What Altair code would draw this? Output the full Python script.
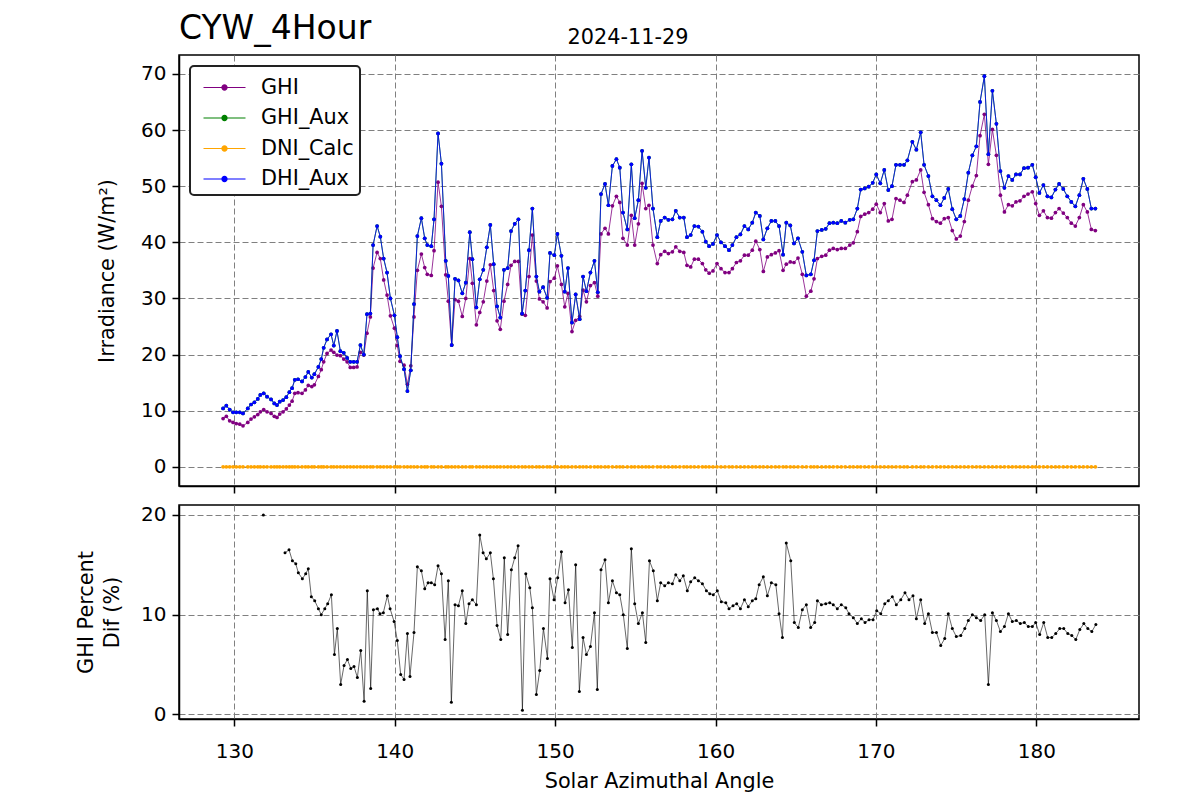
import altair as alt
import pandas as pd

# ---------------- data ----------------
azimuth = [
    129.30, 129.50, 129.71, 129.92, 130.12, 130.34, 130.54, 130.84, 131.04, 131.25,
    131.46, 131.62, 131.83, 132.04, 132.29, 132.49, 132.66, 132.83, 133.04, 133.24,
    133.43, 133.60, 133.77, 133.97, 134.22, 134.43, 134.61, 134.83, 134.99, 135.24,
    135.42, 135.57, 135.78, 136.03, 136.20, 136.40, 136.61, 136.82, 137.03, 137.23,
    137.44, 137.65, 137.86, 138.07, 138.27, 138.48, 138.65, 138.90, 139.10, 139.31,
    139.52, 139.73, 139.98,
    140.16, 140.33, 140.58, 140.79, 141.00, 141.20, 141.41, 141.66, 141.87, 142.03,
    142.28, 142.45, 142.70, 142.91, 143.18, 143.34, 143.55, 143.76, 143.97, 144.21,
    144.43, 144.68, 144.84, 145.09, 145.30, 145.52, 145.74, 145.96, 146.17, 146.38,
    146.58, 146.81, 147.04, 147.25, 147.48, 147.71, 147.94, 148.14, 148.37, 148.58,
    148.83, 149.02, 149.25, 149.50, 149.68, 149.95, 150.14, 150.39, 150.60, 150.80,
    151.05,
    151.28, 151.53, 151.74, 151.95, 152.20, 152.45, 152.66, 152.86, 153.11, 153.32,
    153.57, 153.82, 154.03, 154.23, 154.50, 154.75, 154.96, 155.19, 155.42, 155.65,
    155.85, 156.10, 156.37, 156.58, 156.83, 157.06, 157.31, 157.52, 157.77, 158.02,
    158.22, 158.45, 158.68, 158.93, 159.18, 159.39, 159.60, 159.84, 160.09, 160.34,
    160.59, 160.84, 161.05, 161.30, 161.55, 161.80, 162.04,
    162.29, 162.51, 162.76, 162.98, 163.23, 163.48, 163.73, 163.96, 164.21, 164.41,
    164.66, 164.89, 165.14, 165.41, 165.66, 165.94, 166.14, 166.35, 166.62, 166.87,
    167.10, 167.34, 167.59, 167.84, 168.09, 168.37, 168.59, 168.84, 169.05, 169.30,
    169.55, 169.80, 170.02, 170.27, 170.52, 170.77, 171.00, 171.25, 171.50, 171.75,
    171.96, 172.27, 172.52, 172.79, 173.00,
    173.27, 173.52, 173.77, 174.02, 174.26, 174.51, 174.76, 175.01, 175.26, 175.51,
    175.76, 176.01, 176.26, 176.49, 176.76, 177.01, 177.26, 177.51, 177.76, 178.01,
    178.26, 178.50, 178.73, 178.98, 179.23, 179.48, 179.75, 179.96, 180.19, 180.44,
    180.69, 180.94, 181.19, 181.42, 181.68, 181.93, 182.18, 182.43, 182.68, 182.93,
    183.18, 183.43, 183.68,
]

ghi = [
    8.6, 9.0, 8.2, 7.9, 7.7, 7.6, 7.3, 7.9, 8.5, 8.9,
    9.3, 9.8, 10.2, 9.8, 9.5, 9.0, 8.8, 9.4, 9.8, 10.3,
    11.0, 11.7, 13.1, 13.2, 13.1, 13.7, 14.5, 14.3, 14.6, 16.1,
    17.3, 18.7, 20.2, 20.8, 20.4, 19.9, 19.8, 19.2, 18.7, 17.7,
    17.7, 17.8, 20.4, 19.9, 23.8, 26.7, 35.4, 38.2, 37.1, 33.3,
    30.6, 26.9, 24.7,
    21.6, 18.8, 18.1, 14.7, 18.0, 26.7, 35.0, 37.9, 35.5, 34.3,
    34.1, 38.5, 50.7, 46.4, 34.2, 29.5, 21.7, 29.8, 29.5, 26.8,
    30.0, 37.1, 32.7, 25.3, 27.5, 29.4, 33.1, 36.0, 31.4, 26.0,
    24.5, 29.5, 32.5, 35.9, 36.6, 36.6, 27.2, 27.0, 33.9, 41.3,
    33.1, 29.9, 29.4, 28.3, 33.0, 33.6, 35.8, 32.5, 28.5, 30.9,
    24.1,
    26.1, 26.8, 31.5, 29.4, 32.3, 32.8, 30.4, 41.5, 42.5, 41.5,
    46.5, 48.2, 47.1, 40.7, 39.5, 44.8, 39.5, 43.3, 50.5, 46.0,
    46.6, 39.5, 36.2, 37.8, 38.4, 38.0, 38.3, 39.2, 38.4, 38.2,
    35.9, 35.6, 37.0, 37.0, 36.2, 35.1, 34.5, 34.9, 36.2, 35.3,
    34.6, 34.6, 35.3, 36.4, 36.7, 37.7, 37.7,
    38.6, 40.2, 38.7, 34.8, 37.4, 37.8, 38.1, 38.5, 35.0, 36.1,
    36.5, 36.4, 37.2, 34.3, 30.4, 31.3, 33.5, 37.1, 37.5, 37.7,
    38.6, 38.9, 38.7, 38.9, 38.9, 39.5, 39.9, 41.9, 44.6, 45.0,
    45.3, 45.9, 46.8, 45.3, 46.9, 43.8, 44.1, 47.8, 47.5, 47.1,
    48.4, 50.8, 51.1, 52.9, 48.9,
    46.7, 44.2, 43.7, 43.4, 44.2, 44.4, 42.1, 40.6, 41.1, 43.7,
    47.5, 50.0, 51.9, 59.0, 62.8, 53.9, 60.1, 55.5, 48.4, 45.4,
    46.7, 46.5, 47.2, 47.4, 48.2, 48.6, 49.0, 46.9, 44.8, 45.6,
    44.4, 44.3, 45.3, 46.0, 45.2, 44.4, 43.4, 42.9, 44.4, 46.7,
    45.4, 42.3, 42.1,
]

dhi_aux = [
    10.4, 10.9, 10.2, 9.7, 9.7, 9.7, 9.5, 10.4, 11.1, 11.5,
    12.1, 12.8, 13.1, 12.5, 12.0, 11.3, 11.0, 11.6, 11.9, 12.4,
    13.3, 14.0, 15.5, 15.6, 15.2, 16.0, 16.9, 15.9, 16.5, 17.8,
    19.2, 21.2, 22.7, 23.6, 21.6, 24.2, 20.6, 20.3, 19.4, 18.7,
    18.7, 18.7, 21.7, 20.0, 27.2, 27.3, 39.5, 42.9, 41.0, 37.1,
    34.6, 30.0, 27.0,
    23.1, 19.7, 17.4, 13.5, 17.2, 29.0, 41.1, 44.3, 40.7, 39.5,
    39.3, 44.1, 59.4, 54.0, 36.7, 34.0, 21.7, 33.5, 33.2, 30.9,
    32.8, 41.8, 37.0, 28.4, 33.4, 35.1, 39.1, 43.1, 36.1, 28.6,
    26.6, 35.1, 35.4, 42.0, 43.3, 44.1, 27.3, 31.4, 38.6, 46.0,
    33.9, 31.2, 32.0, 30.1, 38.1, 37.7, 41.5, 37.6, 31.2, 35.4,
    25.7,
    30.7, 26.3, 33.9, 31.3, 34.6, 36.7, 31.1, 48.6, 50.4, 46.6,
    53.6, 54.8, 53.3, 45.3, 42.3, 53.9, 44.3, 47.5, 56.3, 49.7,
    55.1, 46.0, 40.9, 43.8, 44.4, 44.0, 44.1, 45.6, 44.4, 44.4,
    40.9, 41.3, 42.9, 42.8, 41.9, 40.1, 39.3, 39.7, 41.3, 40.0,
    39.3, 38.6, 39.5, 40.9, 41.4, 42.9, 42.3,
    43.5, 45.3, 44.7, 40.5, 42.5, 43.8, 43.8, 42.9, 37.8, 43.5,
    43.0, 39.8, 40.7, 38.3, 34.1, 34.3, 36.8, 42.0, 42.2, 42.4,
    43.4, 43.5, 43.4, 43.8, 43.5, 44.0, 44.1, 46.0, 49.4, 49.6,
    49.9, 50.6, 52.1, 50.5, 52.9, 49.3, 50.0, 53.8, 53.8, 53.8,
    54.6, 57.9, 56.5, 59.6, 53.8,
    51.8, 48.2, 47.5, 46.6, 47.9, 49.5, 45.9, 44.1, 44.7, 47.7,
    52.4, 55.5, 57.1, 65.0, 69.6, 55.7, 67.0, 61.1, 52.7, 49.7,
    51.8, 51.1, 52.1, 52.1, 53.2, 53.3, 53.8, 51.6, 48.8, 50.2,
    48.2, 48.0, 49.4, 50.4, 49.5, 48.2, 47.2, 46.4, 48.4, 51.3,
    49.5, 46.0, 46.0,
]

# GHI_Aux is drawn before DHI_Aux and lies exactly underneath it (no green is visible)
ghi_aux = list(dhi_aux)

dni_calc = [
    0, 0, 0, 0, 0, 0, 0, 0, 0, 0, 0, 0, 0, 0, 0, 0, 0, 0, 0, 0,
    0, 0, 0, 0, 0, 0, 0, 0, 0, 0, 0, 0, 0, 0, 0, 0, 0, 0, 0, 0,
    0, 0, 0, 0, 0, 0, 0, 0, 0, 0, 0, 0, 0, 0, 0, 0, 0, 0, 0, 0,
    0, 0, 0, 0, 0, 0, 0, 0, 0, 0, 0, 0, 0, 0, 0, 0, 0, 0, 0, 0,
    0, 0, 0, 0, 0, 0, 0, 0, 0, 0, 0, 0, 0, 0, 0, 0, 0, 0, 0, 0,
    0, 0, 0, 0, 0, 0, 0, 0, 0, 0, 0, 0, 0, 0, 0, 0, 0, 0, 0, 0,
    0, 0, 0, 0, 0, 0, 0, 0, 0, 0, 0, 0, 0, 0, 0, 0, 0, 0, 0, 0,
    0, 0, 0, 0, 0, 0, 0, 0, 0, 0, 0, 0, 0, 0, 0, 0, 0, 0, 0, 0,
    0, 0, 0, 0, 0, 0, 0, 0, 0, 0, 0, 0, 0, 0, 0, 0, 0, 0, 0, 0,
    0, 0, 0, 0, 0, 0, 0, 0, 0, 0, 0, 0, 0, 0, 0, 0, 0, 0, 0, 0,
    0, 0, 0, 0, 0, 0, 0, 0, 0, 0, 0, 0, 0, 0, 0, 0, 0, 0, 0, 0,
    0, 0, 0, 0, 0, 0, 0, 0, 0, 0, 0, 0, 0, 0, 0, 0, 0, 0, 0,
]

pct_azimuth = [
    131.81,
    133.16, 133.41, 133.62, 133.83, 133.99, 134.24, 134.45, 134.61, 134.80, 135.01,
    135.24, 135.42, 135.64, 135.82, 136.05, 136.24, 136.42, 136.63, 136.84, 137.05,
    137.26, 137.46, 137.67, 137.88, 138.09, 138.29, 138.50, 138.67, 138.92, 139.08,
    139.29, 139.54, 139.71, 139.96, 140.16, 140.37, 140.58, 140.79, 140.95, 141.20,
    141.41, 141.66, 141.87, 142.08, 142.28, 142.49, 142.70, 142.91, 143.14, 143.34,
    143.53, 143.76, 143.97, 144.21, 144.43, 144.63, 144.84, 145.09, 145.30, 145.51,
    145.71, 145.96, 146.15, 146.38, 146.61, 146.83, 147.04, 147.27, 147.48, 147.69,
    147.96, 148.17, 148.42, 148.58, 148.83, 149.04, 149.27, 149.52, 149.68, 149.93,
    150.16, 150.39, 150.62, 150.83, 151.07, 151.28, 151.51, 151.74, 151.95, 152.20,
    152.45, 152.63, 152.86, 153.11, 153.32, 153.57, 153.82, 154.03, 154.25, 154.50,
    154.75, 154.96, 155.19, 155.44, 155.65, 155.88, 156.12, 156.37, 156.58, 156.83,
    157.06, 157.31, 157.52, 157.77, 157.99, 158.24, 158.45, 158.70, 158.93, 159.18,
    159.43, 159.64, 159.86, 160.11, 160.36, 160.64, 160.84, 161.09, 161.32, 161.55,
    161.80, 162.04, 162.29, 162.51, 162.72, 162.98, 163.23, 163.48, 163.76, 163.96,
    164.17, 164.41, 164.69, 164.91, 165.16, 165.41, 165.66, 165.93, 166.18, 166.35,
    166.60, 166.87, 167.12, 167.34, 167.59, 167.84, 168.12, 168.32, 168.59, 168.84,
    169.09, 169.32, 169.57, 169.82, 170.05, 170.30, 170.55, 170.77, 171.02, 171.27,
    171.55, 171.81, 172.06, 172.31, 172.52, 172.79, 173.04, 173.27, 173.52, 173.77,
    174.04, 174.29, 174.51, 174.76, 175.01, 175.29, 175.54, 175.76, 176.01, 176.26,
    176.53, 176.78, 177.01, 177.26, 177.51, 177.76, 178.01, 178.26, 178.50, 178.75,
    179.00, 179.25, 179.50, 179.75, 179.96, 180.21, 180.46, 180.71, 180.96, 181.21,
    181.46, 181.71, 181.96, 182.21, 182.46, 182.71, 182.96, 183.21, 183.46, 183.71,
]

pct_dif = [
    20.0,
    16.2, 16.5, 15.4, 15.1, 14.2, 13.6, 14.1, 14.6, 11.8, 11.4,
    10.6, 10.0, 10.6, 11.1, 12.0, 6.0, 8.6, 3.0, 4.9, 5.5,
    4.6, 4.8, 3.7, 6.4, 1.3, 12.4, 2.6, 10.5, 10.6, 10.1,
    10.2, 11.9, 10.6, 9.3, 7.4, 4.0, 3.5, 8.1, 3.8, 8.2,
    14.8, 14.4, 12.6, 13.2, 13.2, 13.0, 14.9, 14.1, 7.5, 13.4,
    1.2, 11.0, 10.9, 12.4, 9.1, 11.1, 11.5, 11.0, 18.0, 16.2,
    15.6, 16.2, 13.6, 8.9, 7.5, 15.7, 8.0, 14.5, 15.7, 16.9,
    0.4, 14.1, 12.7, 10.7, 2.0, 4.4, 8.6, 5.6, 13.6, 11.5,
    13.7, 16.3, 11.2, 12.5, 6.7, 15.0, 2.3, 7.7, 6.0, 6.8,
    10.2, 2.5, 14.5, 15.5, 11.2, 13.4, 12.2, 12.0, 10.0, 6.6,
    16.6, 11.1, 9.1, 10.2, 7.2, 15.4, 14.4, 11.4, 13.2, 12.9,
    13.2, 13.1, 14.0, 13.4, 13.9, 12.4, 13.3, 13.7, 13.4, 13.1,
    12.4, 12.1, 12.0, 12.4, 11.3, 11.2, 10.6, 10.9, 11.1, 10.6,
    11.5, 10.8, 11.4, 11.6, 13.0, 13.8, 11.9, 13.2, 13.0, 10.1,
    7.7, 17.2, 15.4, 9.2, 8.7, 10.5, 11.0, 8.7, 9.2, 11.4,
    11.0, 11.1, 11.2, 11.0, 10.6, 11.0, 10.7, 10.1, 9.7, 9.1,
    9.6, 9.2, 9.5, 9.5, 10.4, 10.1, 11.1, 11.4, 11.8, 11.0,
    11.5, 12.2, 11.5, 11.9, 9.6, 11.5, 9.1, 10.1, 8.2, 8.2,
    6.9, 7.6, 10.1, 8.6, 7.8, 7.9, 8.6, 9.4, 10.0, 9.7,
    9.4, 10.0, 3.0, 10.2, 9.4, 8.3, 8.8, 10.1, 9.3, 9.4,
    9.1, 9.2, 8.8, 8.8, 9.2, 8.0, 9.2, 7.7, 7.7, 8.1,
    8.6, 8.6, 8.1, 7.9, 7.5, 8.5, 9.1, 8.6, 8.3, 9.0,
]

series_names = ["GHI", "GHI_Aux", "DNI_Calc", "DHI_Aux"]
series_colors = ["#800080", "#008000", "#FFA500", "#0000FF"]
x_ticks = [130, 140, 150, 160, 170, 180]
top_y_ticks = [0, 10, 20, 30, 40, 50, 60, 70]
bottom_y_ticks = [0, 10, 20]

# ---------------- tables ----------------
rows = []
for name, vals in zip(series_names, [ghi, ghi_aux, dni_calc, dhi_aux]):
    for a, v in zip(azimuth, vals):
        rows.append({"az": a, "val": v, "series": name})
top_df = pd.DataFrame(rows)

pct_df = pd.DataFrame({"az": pct_azimuth, "pct": pct_dif})
pct_df["run"] = (pct_df["az"] > 132.5).astype(int)

FONT = "DejaVu Sans"
x_scale = alt.Scale(domain=[126.55, 186.4], nice=False, zero=False)
top_y_scale = alt.Scale(domain=[-3.42, 73.37], nice=False, zero=False)
bot_y_scale = alt.Scale(domain=[-0.47, 21.0], nice=False, zero=False)
color_scale = alt.Scale(domain=series_names, range=series_colors)

top_x_axis = alt.Axis(values=x_ticks, labels=False, title=None, grid=True)
top_y_axis = alt.Axis(values=top_y_ticks, title="Irradiance (W/m²)", grid=True,
                      titlePadding=23, labelPadding=6)

legend_symbol = ("M-1.4,-0.04L1.4,-0.04L1.4,0.04L-1.4,0.04Z"
                 "M-0.21,0A0.21,0.21 0 1,1 0.21,0A0.21,0.21 0 1,1 -0.21,0Z"
                 "M-0.1,0A0.1,0.1 0 1,1 0.1,0A0.1,0.1 0 1,1 -0.1,0Z")
top_legend = alt.Legend(
    title=None, orient="none", legendX=11, legendY=11,
    symbolType=legend_symbol, symbolSize=900, symbolStrokeWidth=0.8,
    symbolOffset=13, labelOffset=21, labelFont=FONT, labelFontSize=20.8,
    labelColor="black",
    labelExpr="datum.label + '\u00a0\u00a0\u00a0\u00a0'",
    padding=6, rowPadding=4.5, fillColor="white",
    strokeColor="#222222", cornerRadius=4,
)

layers = []
for name, col in zip(series_names, series_colors):
    base = alt.Chart(top_df).transform_filter(alt.datum.series == name)
    enc = dict(
        x=alt.X("az:Q", scale=x_scale, axis=top_x_axis),
        y=alt.Y("val:Q", scale=top_y_scale, axis=top_y_axis),
    )
    line = base.mark_line(strokeWidth=0.8, color=col, clip=True).encode(**enc)
    pts = base.mark_circle(size=14, opacity=1, clip=True).encode(
        color=alt.Color("series:N", scale=color_scale, legend=top_legend), **enc)
    layers += [line, pts]

top = alt.layer(*layers).properties(
    width=960, height=431,
    title=alt.Title("2024-11-29", anchor="middle", frame="group", dx=-31,
                    fontSize=20.8, font=FONT, fontWeight="normal",
                    color="black", offset=6),
)

bot_x_axis = alt.Axis(values=x_ticks, title="Solar Azimuthal Angle", grid=True,
                      labelPadding=15, titlePadding=10)
bot_y_axis = alt.Axis(values=bottom_y_ticks, title=["GHI Percent", "Dif (%)"],
                      grid=True, titlePadding=18, titleLineHeight=26,
                      labelPadding=6)

bot_base = alt.Chart(pct_df).encode(
    x=alt.X("az:Q", scale=x_scale, axis=bot_x_axis),
    y=alt.Y("pct:Q", scale=bot_y_scale, axis=bot_y_axis),
)
bot_line = bot_base.mark_line(strokeWidth=0.6, color="#000000", clip=True).encode(
    detail="run:N")
bot_pts = bot_base.mark_circle(size=9, color="#000000", opacity=1, clip=True)
bottom = alt.layer(bot_line, bot_pts).properties(width=960, height=214)

chart = alt.vconcat(top, bottom, spacing=19).properties(
    title=alt.Title("CYW_4Hour", anchor="start", frame="group", fontSize=33,
                    font=FONT, fontWeight="normal", color="black", offset=-20),
    bounds="flush",
    padding={"left": 66, "top": 5, "right": 5, "bottom": 5},
).configure(font=FONT).configure_view(
    stroke="black", strokeWidth=1.5
).configure_axis(
    labelFont=FONT, labelFontSize=20, labelColor="black",
    titleFont=FONT, titleFontSize=20.8, titleFontWeight="normal", titleColor="black",
    tickColor="black", tickSize=7, tickWidth=1.5,
    domainColor="black", domainWidth=1.5,
    gridColor="#808080", gridDash=[6, 3], gridWidth=1,
    labelPadding=8,
).configure_legend(strokeWidth=2)

chart.save("out.html", embed_options={"renderer": "svg", "actions": False})
